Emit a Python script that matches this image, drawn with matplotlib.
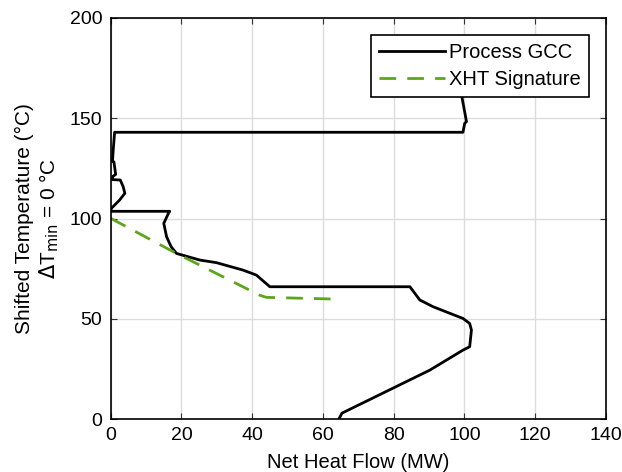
import numpy as np
import matplotlib
matplotlib.use('Agg')
from matplotlib import pyplot as plt

plt.rcParams['font.family'] = ['Liberation Sans', 'DejaVu Sans']

# Process GCC (heat flow MW, shifted temperature C)
gcc_q = [64.5, 65.4, 90.2, 99.6, 101.5, 102.0, 101.5, 99.6, 91.2, 87.4, 84.6,
         45.0, 41.2, 37.4, 29.9, 25.2, 18.6, 17.1, 15.8, 15.0, 16.4, 16.7,
         0.0, 0.2, 2.5, 4.0, 3.5, 2.7, 0.5, 0.6, 1.4, 0.9, 0.5, 0.7, 1.1,
         99.6, 100.1, 100.6, 99.2, 99.0]
gcc_t = [0.0, 3.0, 24.4, 34.4, 36.1, 44.4, 47.7, 50.2, 56.0, 59.4, 66.0,
         66.0, 71.8, 74.3, 78.0, 79.3, 82.6, 85.9, 90.9, 97.6, 102.9, 103.6,
         103.6, 105.1, 109.2, 112.6, 116.0, 119.2, 119.4, 121.0, 122.0, 128.3, 128.5, 134.0, 143.0,
         143.0, 147.5, 148.3, 161.6, 168.0]

# XHT signature
xht_q = [0.0, 18.6, 42.1, 44.0, 62.4]
xht_t = [100.1, 82.6, 61.8, 60.7, 59.9]

fig = plt.figure(figsize=(6.22, 4.72), dpi=100)
ax = fig.add_axes([0.178, 0.112, 0.796, 0.85])

ax.plot(gcc_q, gcc_t, color='black', linewidth=2, label='Process GCC')
ax.plot(xht_q, xht_t, color='#5ea51e', linewidth=2, linestyle=(0, (6, 4)), label='XHT Signature')

ax.set_xlim(0, 140)
ax.set_ylim(0, 200)
ax.set_xticks(np.arange(0, 141, 20))
ax.set_yticks(np.arange(0, 201, 50))
ax.grid(True, color='#dcdcdc', linewidth=1)
ax.set_axisbelow(True)
ax.tick_params(direction='in', top=True, right=True, labelsize=14, length=4, pad=6, color='#333333')
for s in ax.spines.values():
    s.set_linewidth(1.2)

ax.set_xlabel('Net Heat Flow (MW)', fontsize=14.5, labelpad=6)
ax.set_ylabel('Shifted Temperature (°C)\n$\\Delta$T$_{\\mathrm{min}}$ = 0 °C', fontsize=15, labelpad=6)

leg = ax.legend(loc='upper right', bbox_to_anchor=(0.966, 0.958), borderaxespad=0,
                fontsize=14.5, fancybox=False, framealpha=1, edgecolor='black',
                handlelength=3.3, handletextpad=0.2, borderpad=0.4, labelspacing=0.4)
leg.get_frame().set_linewidth(1.2)

plt.savefig('out.png', dpi=100)
